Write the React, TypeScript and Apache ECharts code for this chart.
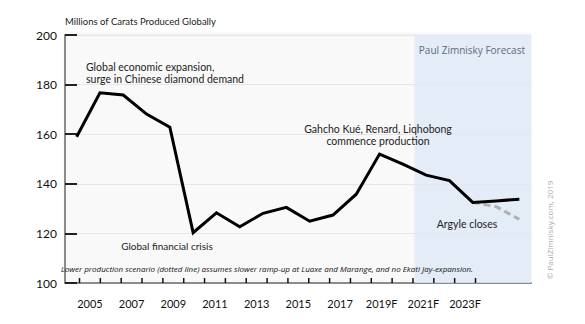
import React, { useEffect, useRef } from "react";
import * as echarts from "echarts";

const years = [2004, 2005, 2006, 2007, 2008, 2009, 2010, 2011, 2012, 2013, 2014, 2015, 2016, 2017, 2018, 2019, 2020, 2021, 2022, 2023];
const production = [159, 176.7, 175.8, 168.1, 162.8, 120.3, 128.3, 122.7, 128.1, 130.5, 124.9, 127.4, 135.8, 152, 147.9, 143.5, 141.3, 132.5, 133.1, 133.8];
const lowYears = [2021, 2022, 2023];
const lowScenario = [132.5, 130.8, 125.7];
const tickLabels = ["2005", "2006", "2007", "2008", "2009", "2010", "2011", "2012", "2013", "2014", "2015", "2016", "2017", "2018", "2019F", "2020F", "2021F", "2022F", "2023F"];
const forecastStart = 2018.5;
const forecastEnd = 2023.5;

const FONT = "Lato, 'Open Sans', sans-serif";

export default function App() {
  const ref = useRef<HTMLDivElement>(null);
  useEffect(() => {
    if (!ref.current) return;
    const chart = echarts.init(ref.current, undefined, { renderer: "svg" });
    const lastIndex = tickLabels.length - 1;
    const option: any = {
      animation: false,
      backgroundColor: "#ffffff",
      textStyle: { fontFamily: FONT },
      grid: [
        { left: 65, top: 35, width: 466, height: 248 },
        { left: 79.5, top: 35, width: 396, height: 248 },
      ],
      xAxis: [
        {
          type: "value", gridIndex: 0, min: 2003.5, max: 2023.5,
          axisLine: { show: true, lineStyle: { color: "#8c8c8c", width: 2 } },
          axisTick: { show: false }, axisLabel: { show: false }, splitLine: { show: false },
        },
        {
          type: "category", gridIndex: 1, data: tickLabels, boundaryGap: true,
          axisLine: { show: false },
          axisTick: { show: false },
          axisLabel: { interval: 1, margin: 15, fontSize: 11, color: "#111", fontFamily: FONT },
          splitLine: { show: false },
        },
      ],
      yAxis: [
        {
          type: "value", gridIndex: 0, min: 100, max: 200, interval: 20,
          axisLine: { show: true, lineStyle: { color: "#8c8c8c", width: 2 } },
          axisTick: { show: true, inside: true, length: 12, lineStyle: { color: "#222", width: 2 } },
          axisLabel: { fontSize: 12, color: "#111", margin: 8, fontFamily: FONT },
          splitLine: { show: true, lineStyle: { color: "#e6e6e6", width: 1 } },
        },
        {
          type: "value", gridIndex: 1, min: 100, max: 200,
          axisLine: { show: false }, axisTick: { show: false }, axisLabel: { show: false }, splitLine: { show: false },
        },
      ],
      series: [
        {
          type: "custom", xAxisIndex: 1, yAxisIndex: 1, z: 20, silent: true, clip: false,
          data: tickLabels.map((_, i) => [i, 100]),
          renderItem: (params: any, api: any) => {
            const i = api.value(0);
            const c = api.coord([i, 100]);
            const w = api.size([1, 0])[0];
            const xs = [c[0] - w / 2];
            if (i === lastIndex) xs.push(c[0] + w / 2);
            return {
              type: "group",
              children: xs.map((x) => ({
                type: "line",
                shape: { x1: x, y1: c[1], x2: x, y2: c[1] - 5 },
                style: { stroke: "#111", lineWidth: 1.5 },
              })),
            };
          },
        },
        {
          type: "line", xAxisIndex: 0, yAxisIndex: 0,
          data: [],
          markArea: {
            silent: true,
            itemStyle: { color: "rgba(222,233,247,0.8)" },
            data: [[{ xAxis: forecastStart }, { xAxis: forecastEnd }]],
          },
        },
        {
          type: "line", xAxisIndex: 0, yAxisIndex: 0,
          data: lowYears.map((y, i) => [y, lowScenario[i]]),
          showSymbol: false, symbol: "none",
          lineStyle: { color: "#b0b0b0", width: 3, type: [7, 4] },
          z: 3,
        },
        {
          type: "line", xAxisIndex: 0, yAxisIndex: 0,
          data: years.map((y, i) => [y, production[i]]),
          showSymbol: false, symbol: "none",
          lineStyle: { color: "#000", width: 3, join: "miter" },
          z: 4,
        },
      ],
      graphic: [
        {
          type: "rect", z: -10, silent: true,
          shape: { x: 65, y: 35, width: 466, height: 248 },
          style: { fill: "#f9f9f9", shadowColor: "rgba(0,0,0,0.08)", shadowBlur: 3, shadowOffsetY: -1 },
        },
        { type: "text", z: 100, left: 65, top: 16, style: { text: "Millions of Carats Produced Globally", fontSize: 9.5, fill: "#222", fontFamily: FONT } },
        { type: "text", z: 100, left: 86, top: 61, style: { text: "Global economic expansion,\nsurge in Chinese diamond demand", fontSize: 10.5, lineHeight: 12, fill: "#222", fontFamily: FONT } },
        { type: "text", z: 100, x: 167, y: 246, style: { text: "Global financial crisis", fontSize: 10, fill: "#222", fontFamily: FONT, align: "center", verticalAlign: "middle" } },
        { type: "text", z: 100, x: 378, y: 135, style: { text: "Gahcho Kué, Renard, Liqhobong\ncommence production", fontSize: 10.5, lineHeight: 11.5, fill: "#222", fontFamily: FONT, align: "center", verticalAlign: "middle" } },
        { type: "text", z: 100, x: 467, y: 224, style: { text: "Argyle closes", fontSize: 10.5, fill: "#222", fontFamily: FONT, align: "center", verticalAlign: "middle" } },
        { type: "text", z: 100, x: 525, y: 50, style: { text: "Paul Zimnisky Forecast", fontSize: 10, fill: "#5d6b80", fontFamily: "'Open Sans', sans-serif", align: "right", verticalAlign: "middle" } },
        { type: "text", z: 100, x: 267, y: 268, style: { text: "Lower production scenario (dotted line) assumes slower ramp-up at Luaxe and Marange, and no Ekati Jay-expansion.", fontSize: 8, fontStyle: "italic", fill: "#111", fontFamily: "'Open Sans', sans-serif", align: "center", verticalAlign: "middle" } },
        { type: "text", z: 100, x: 549, y: 230, rotation: Math.PI / 2, style: { text: "© PaulZimnisky.com, 2019", fontSize: 8, fill: "#aaaaaa", fontFamily: "'Open Sans', sans-serif", align: "center", verticalAlign: "middle" } },
      ],
    };
    chart.setOption(option);
    return () => chart.dispose();
  }, []);
  return <div ref={ref} style={{ width: 585, height: 324, position: "absolute", left: 0, top: 0 }} />;
}
